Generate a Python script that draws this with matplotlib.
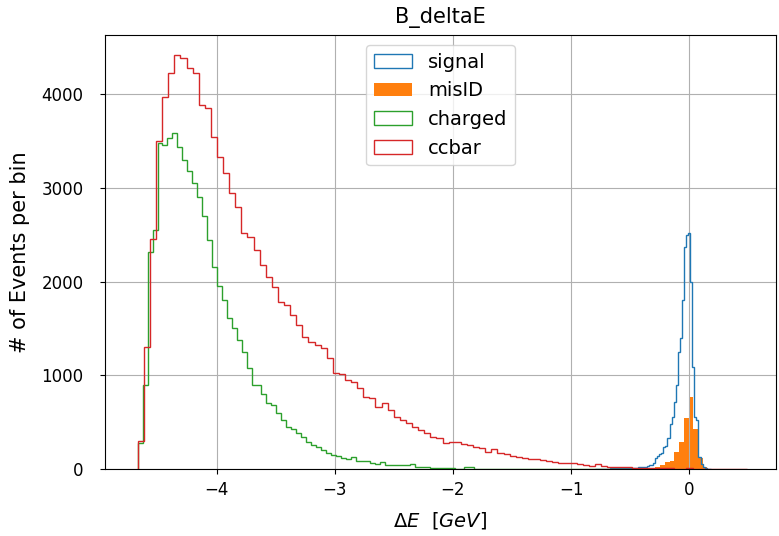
import numpy as np
import matplotlib
matplotlib.use("Agg")
import matplotlib.pyplot as plt

plt.rcParams["font.size"] = 12

# bin layout of each sample (start, bin width, counts per bin)
ccbar_start, ccbar_width = -4.668, 0.0516
ccbar_counts = [300, 1300, 2450, 3500, 3970, 4220, 4416, 4380, 4274, 4220,
                3883, 3847, 3545, 3331, 3154, 2940, 2790, 2514, 2478, 2336,
                2176, 2051, 1945, 1785, 1749, 1643, 1536, 1411, 1358, 1323,
                1287, 1181, 1021, 1010, 950, 931, 860, 771, 754, 665,
                700, 629, 558, 523, 487, 451, 416, 380, 345, 327,
                274, 291, 285, 265, 256, 240, 220, 185, 210, 174,
                156, 139, 124, 114, 108, 103, 95, 85, 75, 68,
                62, 60, 55, 40, 36, 55, 30, 25, 22, 20,
                18, 15, 13, 12, 10, 9, 8, 6, 5, 5,
                6, 5, 3, 2, 1, 1, 0, 0, 0, 0]

charged_start, charged_width = -4.668, 0.0419
charged_counts = [280, 900, 2318, 2549, 3480, 3460, 3530, 3580, 3438, 3300,
                  3180, 3050, 2900, 2700, 2443, 2150, 1950, 1800, 1607, 1501,
                  1380, 1250, 1080, 900, 896, 800, 700, 683, 594, 520,
                  451, 430, 380, 340, 290, 260, 230, 203, 175, 150,
                  135, 120, 110, 131, 89, 89, 85, 60, 58, 70,
                  45, 43, 40, 38, 42, 55, 20, 18, 18, 16,
                  15, 14, 12, 8, 5, 4, 25, 22, 4, 3,
                  3, 3, 2, 2, 2, 2, 2, 2, 1, 1,
                  1, 1, 1, 1, 1, 1, 1, 1, 1, 1,
                  1, 0, 1, 0, 0, 1, 0, 0, 0, 0]

signal_start, signal_width = -0.797, 0.0175
signal_counts = [2, 3, 3, 4, 4, 5, 5, 6, 6, 7,
                 7, 8, 8, 9, 10, 10, 11, 12, 13, 14,
                 15, 17, 19, 22, 26, 32, 38, 42, 60, 120,
                 135, 160, 170, 230, 250, 330, 480, 560, 720, 900,
                 1250, 1400, 1800, 2370, 2500, 2514, 2000, 1090, 560, 520,
                 130, 50, 25, 12, 5, 2]

misid_start, misid_width = -0.406, 0.04
misid_counts = [5, 8, 12, 20, 45, 70, 90, 180, 290, 540,
                770, 430, 120, 20, 5]


def edges(start, width, counts):
    return start + width * np.arange(len(counts) + 1)


fig = plt.figure(figsize=(7.79, 5.36), dpi=100)
ax = fig.add_axes([0.1348, 0.125, 0.8613, 0.8097])

samples = [
    ("signal", signal_start, signal_width, signal_counts, dict(histtype="step", color="C0")),
    ("misID", misid_start, misid_width, misid_counts, dict(histtype="stepfilled", color="C1")),
    ("charged", charged_start, charged_width, charged_counts, dict(histtype="step", color="C2")),
    ("ccbar", ccbar_start, ccbar_width, ccbar_counts, dict(histtype="step", color="C3")),
]
for name, start, width, counts, style in samples:
    b = edges(start, width, counts)
    ax.hist(b[:-1], bins=b, weights=counts, label=name, **style)

ax.set_xlim(-4.945, 0.734)
ax.set_ylim(0, 4630)
ax.set_xticks([-4, -3, -2, -1, 0])
ax.set_yticks([0, 1000, 2000, 3000, 4000])
ax.tick_params(axis="y", pad=12)
ax.tick_params(axis="x", pad=5)
ax.grid(True)
ax.set_title("B_deltaE", fontsize=15, pad=9)
ax.set_xlabel(r"$\Delta E$  [$GeV$]", fontsize=14, labelpad=8)
ax.set_ylabel("# of Events per bin", fontsize=15, labelpad=8)
ax.legend(loc="upper center", fontsize=14)

fig.savefig("out.png", dpi=100)
